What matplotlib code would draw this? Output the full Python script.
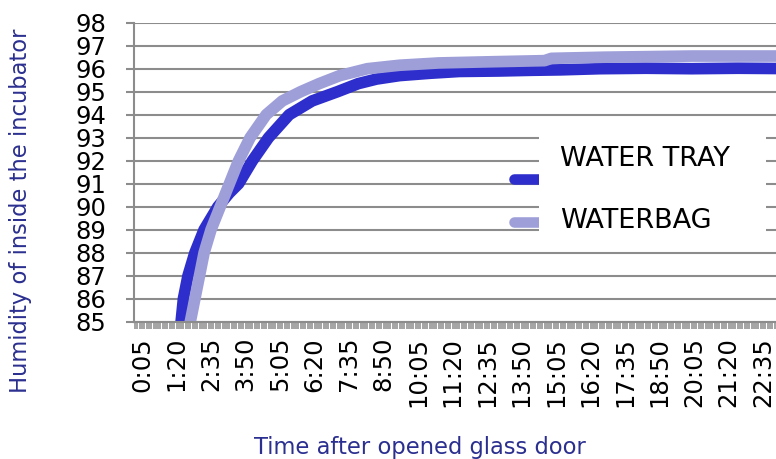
import matplotlib
matplotlib.use("Agg")
import matplotlib.pyplot as plt
from matplotlib.lines import Line2D
from matplotlib.patches import Rectangle
from matplotlib.ticker import FixedLocator, MultipleLocator

# seconds after the glass door was opened / relative humidity (%)
tray_t = [75, 90, 95, 105, 120, 140, 170, 195, 215, 245, 280, 325, 375,
          430, 475, 515, 565, 630, 695, 780, 850, 915, 1000, 1100, 1200, 1300, 1440]
tray_rh = [83.5, 85.0, 86.0, 87.0, 88.0, 89.0, 90.0, 90.6, 91.0, 92.0, 93.0, 94.0, 94.6,
           95.0, 95.35, 95.55, 95.7, 95.8, 95.88, 95.9, 95.93, 95.95, 96.0, 96.02, 96.0, 96.02, 96.0]

bag_t = [95, 110, 120, 130, 140, 155, 175, 195, 215, 240, 275, 310, 350,
         390, 435, 495, 565, 650, 760, 880, 895, 1010, 1200, 1440]
bag_rh = [83.5, 85.0, 86.0, 87.0, 88.0, 89.0, 90.0, 91.0, 92.0, 93.0, 94.0, 94.6, 95.0,
          95.35, 95.7, 96.0, 96.15, 96.25, 96.3, 96.35, 96.45, 96.5, 96.55, 96.55]

series_names = ["WATER TRAY", "WATERBAG"]
series_colors = ["#2e2ecc", "#9e9ed9"]

tick_secs = list(range(5, 1400, 75))
tick_labels = [f"{s // 60}:{s % 60:02d}" for s in tick_secs]
y_ticks = list(range(85, 99))

W, H = 776, 459
grid_gray = "#8c8c8c"
title_blue = "#2b2f8f"
line_w = 8.4

fig = plt.figure(figsize=(W / 100, H / 100), dpi=100)
ax = fig.add_axes([134 / W, 137.3 / H, 666 / W, 299 / H])

ax.plot(tray_t, tray_rh, color=series_colors[0], lw=line_w, solid_joinstyle="round")
ax.plot(bag_t, bag_rh, color=series_colors[1], lw=line_w, solid_joinstyle="round")

ax.set_xlim(-12.4, 1435.4)
ax.set_ylim(85, 98)
ax.set_yticks(y_ticks)
ax.set_yticklabels([str(v) for v in y_ticks], fontsize=17.5)
ax.xaxis.set_major_locator(FixedLocator(tick_secs))
ax.xaxis.set_minor_locator(MultipleLocator(5))
ax.set_xticklabels(tick_labels, rotation=90, fontsize=17.5)

ax.grid(axis="y", color=grid_gray, lw=1.5)
ax.set_axisbelow(True)
for side in ["top", "right"]:
    ax.spines[side].set_visible(False)
for side in ["left", "bottom"]:
    ax.spines[side].set_color(grid_gray)
    ax.spines[side].set_linewidth(1.5)

ax.tick_params(axis="y", length=6, width=1.5, color=grid_gray, pad=14)
ax.tick_params(axis="x", which="both", length=5, width=1.1, color=grid_gray, pad=6)

# axis titles
fig.text(420 / W, 1 - 454 / H, "Time after opened glass door", color=title_blue,
         fontsize=16.3, ha="center", va="baseline")
fig.text(21 / W, 1 - 211 / H, "Humidity of inside the incubator", color=title_blue,
         fontsize=16.3, ha="center", va="center", rotation=90)

# legend: samples sit left of the white box, like the original
fig.add_artist(Rectangle((539 / W, 1 - 242 / H), 227 / W, 118 / H,
                         transform=fig.transFigure, facecolor="white",
                         edgecolor="none", zorder=2.5))
for i, (name, col) in enumerate(zip(series_names, series_colors)):
    ly = 179 + 43 * i
    fig.add_artist(Line2D([514 / W, 550 / W], [1 - ly / H, 1 - ly / H],
                          transform=fig.transFigure, color=col, lw=7.6,
                          solid_capstyle="round", zorder=2))
    fig.text(560 / W, 1 - (166 + 62 * i) / H, name, fontsize=19.5,
             ha="left", va="baseline", zorder=3)

fig.savefig("out.png", dpi=100)
